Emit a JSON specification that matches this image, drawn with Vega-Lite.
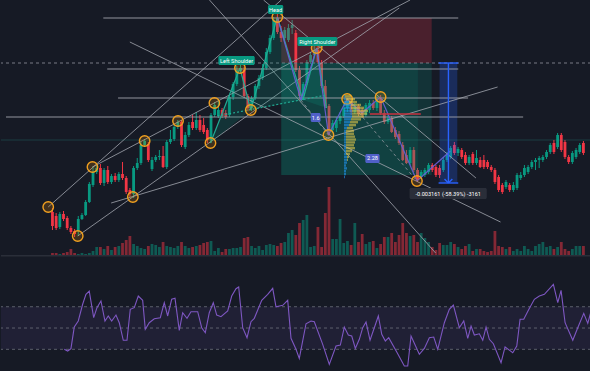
{
"$schema":"https://vega.github.io/schema/vega-lite/v6.json",
"background":"#161a25",
"padding":0,
"spacing":0,
"config":{"view":{"stroke":null},"axis":{"disable":true},"legend":{"disable":true},"concat":{"spacing":0}},
"datasets":{
"candles":[
{"i":0,"o":1540,"h":1644,"l":1072,"c":1176,"v":30},{"i":1,"o":1436,"h":1514,"l":1072,"c":1124,"v":30},{"i":2,"o":1150,"h":1540,"l":1098,"c":1488,"v":20},{"i":3,"o":1488,"h":1566,"l":1306,"c":1358,"v":30},{"i":4,"o":1384,"h":1436,"l":1072,"c":1124,"v":40},{"i":5,"o":1124,"h":1176,"l":968,"c":1020,"v":70},{"i":6,"o":1046,"h":1098,"l":890,"c":968,"v":30},{"i":7,"o":1046,"h":1436,"l":916,"c":1358,"v":20},{"i":8,"o":1358,"h":1514,"l":1332,"c":1462,"v":30},{"i":9,"o":1462,"h":1852,"l":1436,"c":1800,"v":20},
{"i":10,"o":1800,"h":2320,"l":1774,"c":2268,"v":30},{"i":11,"o":2242,"h":2736,"l":2190,"c":2580,"v":50},{"i":12,"o":2580,"h":2762,"l":2528,"c":2684,"v":90},{"i":13,"o":2684,"h":2788,"l":2242,"c":2294,"v":90},{"i":14,"o":2294,"h":2684,"l":2216,"c":2632,"v":70},{"i":15,"o":2632,"h":2736,"l":2268,"c":2320,"v":100},{"i":16,"o":2320,"h":2528,"l":2268,"c":2476,"v":60},{"i":17,"o":2476,"h":2554,"l":2320,"c":2372,"v":90},{"i":18,"o":2372,"h":2580,"l":2320,"c":2528,"v":100},{"i":19,"o":2528,"h":2840,"l":2372,"c":2424,"v":130},
{"i":20,"o":2424,"h":2476,"l":2008,"c":2060,"v":160},{"i":21,"o":2112,"h":2164,"l":1930,"c":2008,"v":200},{"i":22,"o":2008,"h":2736,"l":1904,"c":2684,"v":120},{"i":23,"o":2684,"h":2944,"l":2632,"c":2814,"v":100},{"i":24,"o":2814,"h":3360,"l":2762,"c":3282,"v":80},{"i":25,"o":3282,"h":3438,"l":3230,"c":3386,"v":70},{"i":26,"o":3308,"h":3360,"l":2840,"c":2892,"v":100},{"i":27,"o":2658,"h":2970,"l":2606,"c":2892,"v":120},{"i":28,"o":2892,"h":3022,"l":2840,"c":2970,"v":110},{"i":29,"o":2970,"h":3152,"l":2892,"c":2996,"v":90},
{"i":30,"o":2996,"h":3256,"l":2684,"c":2710,"v":140},{"i":31,"o":2710,"h":3412,"l":2658,"c":3360,"v":100},{"i":32,"o":3360,"h":3672,"l":3308,"c":3438,"v":90},{"i":33,"o":3438,"h":3802,"l":3386,"c":3750,"v":80},{"i":34,"o":3750,"h":3932,"l":3698,"c":3880,"v":100},{"i":35,"o":3880,"h":3932,"l":3230,"c":3282,"v":140},{"i":36,"o":3230,"h":3620,"l":3178,"c":3542,"v":100},{"i":37,"o":3542,"h":3880,"l":3490,"c":3802,"v":80},{"i":38,"o":3880,"h":4062,"l":3672,"c":3724,"v":90},{"i":39,"o":3724,"h":4140,"l":3672,"c":3932,"v":100},
{"i":40,"o":3932,"h":4062,"l":3620,"c":3672,"v":110},{"i":41,"o":3802,"h":3984,"l":3568,"c":3620,"v":130},{"i":42,"o":3672,"h":3724,"l":3334,"c":3412,"v":140},{"i":43,"o":3412,"h":4114,"l":3334,"c":4062,"v":150},{"i":44,"o":4062,"h":4400,"l":4010,"c":4322,"v":50},{"i":45,"o":4036,"h":4452,"l":3984,"c":4192,"v":80},{"i":46,"o":4192,"h":4244,"l":3984,"c":4036,"v":40},{"i":47,"o":4114,"h":4192,"l":3958,"c":4010,"v":70},{"i":48,"o":4062,"h":4582,"l":4010,"c":4530,"v":70},{"i":49,"o":4530,"h":4920,"l":4452,"c":4868,"v":80},
{"i":50,"o":4868,"h":5336,"l":4816,"c":5232,"v":80},{"i":51,"o":5206,"h":5362,"l":5154,"c":5284,"v":90},{"i":52,"o":5232,"h":5310,"l":4504,"c":4556,"v":180},{"i":53,"o":4556,"h":4608,"l":4166,"c":4244,"v":190},{"i":54,"o":4244,"h":4556,"l":4166,"c":4504,"v":100},{"i":55,"o":4504,"h":4868,"l":4452,"c":4816,"v":80},{"i":56,"o":4816,"h":5102,"l":4738,"c":5024,"v":100},{"i":57,"o":5024,"h":5388,"l":4972,"c":5284,"v":60},{"i":58,"o":5284,"h":5804,"l":5232,"c":5700,"v":110},{"i":59,"o":5700,"h":6142,"l":5648,"c":6064,"v":120},
{"i":60,"o":6064,"h":6610,"l":6012,"c":6532,"v":110},{"i":61,"o":6584,"h":6688,"l":6168,"c":6220,"v":100},{"i":62,"o":6220,"h":6376,"l":5960,"c":6064,"v":130},{"i":63,"o":6064,"h":6350,"l":6012,"c":6272,"v":140},{"i":64,"o":6012,"h":6428,"l":5960,"c":6324,"v":230},{"i":65,"o":6324,"h":6532,"l":6168,"c":6402,"v":260},{"i":66,"o":6194,"h":6272,"l":5180,"c":5232,"v":210},{"i":67,"o":5232,"h":5336,"l":4452,"c":4556,"v":330},{"i":68,"o":4556,"h":4920,"l":4452,"c":4868,"v":360},{"i":69,"o":4894,"h":5492,"l":4842,"c":5440,"v":410},
{"i":70,"o":5440,"h":5700,"l":5388,"c":5622,"v":90},{"i":71,"o":5622,"h":5882,"l":5570,"c":5752,"v":100},{"i":72,"o":5752,"h":5856,"l":5388,"c":5440,"v":290},{"i":73,"o":5414,"h":5492,"l":4764,"c":4816,"v":90},{"i":74,"o":4816,"h":4972,"l":4244,"c":4296,"v":430},{"i":75,"o":4296,"h":4348,"l":3516,"c":3672,"v":690},{"i":76,"o":3672,"h":3932,"l":3594,"c":3854,"v":170},{"i":77,"o":3724,"h":4010,"l":3620,"c":3932,"v":170},{"i":78,"o":3906,"h":4140,"l":3828,"c":4036,"v":370},{"i":79,"o":4036,"h":4348,"l":3984,"c":4244,"v":130},
{"i":80,"o":4244,"h":4504,"l":4140,"c":4426,"v":150},{"i":81,"o":4426,"h":4478,"l":4062,"c":4140,"v":110},{"i":82,"o":4140,"h":4374,"l":4088,"c":4296,"v":330},{"i":83,"o":4296,"h":4348,"l":4036,"c":4088,"v":140},{"i":84,"o":4192,"h":4244,"l":4010,"c":4062,"v":220},{"i":85,"o":4062,"h":4374,"l":4010,"c":4322,"v":120},{"i":86,"o":4192,"h":4452,"l":4114,"c":4374,"v":140},{"i":87,"o":4374,"h":4452,"l":4192,"c":4244,"v":150},{"i":88,"o":4244,"h":4556,"l":4166,"c":4478,"v":80},{"i":89,"o":4478,"h":4582,"l":4062,"c":4114,"v":120},
{"i":90,"o":4114,"h":4192,"l":3828,"c":3880,"v":190},{"i":91,"o":3880,"h":4062,"l":3828,"c":3984,"v":190},{"i":92,"o":3984,"h":4036,"l":3594,"c":3620,"v":230},{"i":93,"o":3672,"h":3750,"l":3438,"c":3490,"v":140},{"i":94,"o":3568,"h":3646,"l":3282,"c":3334,"v":210},{"i":95,"o":3282,"h":3360,"l":2866,"c":2892,"v":330},{"i":96,"o":3022,"h":3152,"l":2788,"c":2814,"v":230},{"i":97,"o":2814,"h":3230,"l":2762,"c":3152,"v":200},{"i":98,"o":3152,"h":3230,"l":2580,"c":2632,"v":210},{"i":99,"o":2632,"h":2684,"l":2320,"c":2372,"v":140},
{"i":100,"o":2450,"h":2632,"l":2398,"c":2580,"v":230},{"i":101,"o":2502,"h":2684,"l":2450,"c":2632,"v":180},{"i":102,"o":2580,"h":2814,"l":2528,"c":2762,"v":140},{"i":103,"o":2762,"h":2814,"l":2580,"c":2632,"v":90},{"i":104,"o":2710,"h":2762,"l":2450,"c":2502,"v":60},{"i":105,"o":2684,"h":2762,"l":2424,"c":2502,"v":130},{"i":106,"o":2632,"h":2970,"l":2580,"c":2892,"v":110},{"i":107,"o":2892,"h":3100,"l":2840,"c":3022,"v":110},{"i":108,"o":2970,"h":3256,"l":2918,"c":3204,"v":140},{"i":109,"o":3282,"h":3360,"l":3022,"c":3074,"v":120},
{"i":110,"o":3074,"h":3230,"l":2996,"c":3178,"v":90},{"i":111,"o":3152,"h":3204,"l":2918,"c":2970,"v":70},{"i":112,"o":3022,"h":3100,"l":2762,"c":2814,"v":100},{"i":113,"o":2814,"h":3022,"l":2762,"c":2970,"v":120},{"i":114,"o":3048,"h":3100,"l":2762,"c":2814,"v":50},{"i":115,"o":2814,"h":3152,"l":2762,"c":2944,"v":70},{"i":116,"o":2892,"h":2970,"l":2684,"c":2710,"v":70},{"i":117,"o":2892,"h":3022,"l":2658,"c":2710,"v":50},{"i":118,"o":2840,"h":2892,"l":2658,"c":2710,"v":40},{"i":119,"o":2710,"h":2762,"l":2580,"c":2632,"v":50},
{"i":120,"o":2632,"h":2684,"l":2268,"c":2320,"v":250},{"i":121,"o":2450,"h":2502,"l":2060,"c":2112,"v":100},{"i":122,"o":2242,"h":2294,"l":2008,"c":2060,"v":90},{"i":123,"o":2190,"h":2372,"l":2138,"c":2320,"v":70},{"i":124,"o":2242,"h":2294,"l":2060,"c":2112,"v":90},{"i":125,"o":2112,"h":2320,"l":2060,"c":2242,"v":50},{"i":126,"o":2164,"h":2554,"l":2112,"c":2502,"v":70},{"i":127,"o":2424,"h":2580,"l":2372,"c":2502,"v":50},{"i":128,"o":2502,"h":2762,"l":2450,"c":2684,"v":100},{"i":129,"o":2580,"h":2762,"l":2528,"c":2710,"v":70},
{"i":130,"o":2710,"h":2892,"l":2658,"c":2840,"v":50},{"i":131,"o":2840,"h":2944,"l":2632,"c":2892,"v":100},{"i":132,"o":2892,"h":2996,"l":2684,"c":2944,"v":120},{"i":133,"o":2892,"h":3022,"l":2840,"c":2970,"v":140},{"i":134,"o":2970,"h":3152,"l":2918,"c":3100,"v":90},{"i":135,"o":3100,"h":3334,"l":3048,"c":3282,"v":100},{"i":136,"o":3334,"h":3412,"l":3048,"c":3100,"v":70},{"i":137,"o":3230,"h":3594,"l":3178,"c":3542,"v":90},{"i":138,"o":3542,"h":3594,"l":3100,"c":3152,"v":140},{"i":139,"o":3360,"h":3412,"l":2918,"c":2970,"v":70},
{"i":140,"o":2970,"h":3022,"l":2788,"c":2840,"v":50},{"i":141,"o":2840,"h":3126,"l":2788,"c":3074,"v":70},{"i":142,"o":2970,"h":3204,"l":2918,"c":3152,"v":100},{"i":143,"o":3100,"h":3334,"l":3048,"c":3282,"v":100},{"i":144,"o":3334,"h":3386,"l":3022,"c":3074,"v":100}
],
"seg":[
{"kind":"level","i":13.79,"p":6584,"i2":110.05,"p2":6584},
{"kind":"level","i":14.85,"p":5258,"i2":110.05,"p2":5258},
{"kind":"level","i":17.79,"p":4504,"i2":112.72,"p2":4504},
{"kind":"level","i":-12.6,"p":4010,"i2":127.65,"p2":4010},
{"kind":"trend","i":20.99,"p":5960,"i2":121.52,"p2":1280},
{"kind":"trend","i":-1.15,"p":1670,"i2":62.05,"p2":7052},
{"kind":"trend","i":6.85,"p":916,"i2":94.05,"p2":6844},
{"kind":"trend","i":10.85,"p":2710,"i2":96.99,"p2":7052},
{"kind":"trend","i":15.92,"p":1774,"i2":120.72,"p2":4790},
{"kind":"trend","i":42.59,"p":7052,"i2":103.92,"p2":474},
{"kind":"trend","i":57.25,"p":7052,"i2":114.85,"p2":2424},
{"kind":"hs","i":42.85,"p":3334,"i2":50.85,"p2":5284},
{"kind":"hs","i":50.85,"p":5284,"i2":53.79,"p2":4192},
{"kind":"hs","i":53.79,"p":4192,"i2":60.99,"p2":6610},
{"kind":"hs","i":60.99,"p":6610,"i2":67.93,"p2":4452},
{"kind":"hs","i":67.93,"p":4452,"i2":71.65,"p2":5804},
{"kind":"hs","i":71.65,"p":5804,"i2":74.32,"p2":4244},
{"kind":"neck","i":44.72,"p":4036,"i2":74.32,"p2":4582},
{"kind":"ratio","i":67.39,"p":4452,"i2":74.85,"p2":3542},
{"kind":"ratio","i":79.92,"p":4478,"i2":98.85,"p2":2346},
{"kind":"wave","i":60.99,"p":6610,"i2":67.39,"p2":4452},
{"kind":"wave","i":67.39,"p":4452,"i2":71.65,"p2":5804},
{"kind":"wave","i":71.65,"p":5804,"i2":74.85,"p2":3542},
{"kind":"wave","i":74.85,"p":3542,"i2":79.92,"p2":4478},
{"kind":"wave","i":79.92,"p":4478,"i2":83.92,"p2":4114},
{"kind":"wave","i":83.92,"p":4114,"i2":88.99,"p2":4530},
{"kind":"wave","i":88.99,"p":4530,"i2":98.85,"p2":2346},
{"kind":"wave","i":98.85,"p":2346,"i2":107.92,"p2":3126},
{"kind":"stop","i":86.05,"p":4088,"i2":99.91,"p2":4088},
{"kind":"measure","i":107.39,"p":5414,"i2":107.39,"p2":2294},
{"kind":"measure","i":104.72,"p":5414,"i2":110.05,"p2":5414},
{"kind":"measure","i":104.72,"p":2294,"i2":110.05,"p2":2294},
{"kind":"measure","i":106.32,"p":2398,"i2":107.39,"p2":2294},
{"kind":"measure","i":107.39,"p":2294,"i2":108.45,"p2":2398}
],
"zones":[
{"kind":"loss","i":62.05,"i2":102.85,"p":6584,"p2":5414},
{"kind":"profit","i":62.05,"i2":102.85,"p":5414,"p2":2502},
{"kind":"profit2","i":62.05,"i2":99.11,"p":5414,"p2":2502},
{"kind":"measure","i":104.99,"i2":109.79,"p":5414,"p2":2294}
],
"boxes":[
{"kind":"pattern","i":45.0,"i2":54.85,"p":5596,"p2":5362},
{"kind":"pattern","i":58.45,"i2":62.59,"p":6922,"p2":6688},
{"kind":"pattern","i":66.45,"i2":77.25,"p":6090,"p2":5856},
{"kind":"ratio","i":70.05,"i2":72.72,"p":4114,"p2":3880},
{"kind":"ratio","i":84.85,"i2":88.72,"p":3048,"p2":2814},
{"kind":"measure","i":96.85,"i2":117.79,"p":2164,"p2":1878}
],
"labels":[
{"txt":"Left Shoulder","i":49.92,"p":5479},
{"txt":"Head","i":60.51,"p":6805},
{"txt":"Right Shoulder","i":71.84,"p":5973},
{"txt":"1.6","i":71.39,"p":3997},
{"txt":"2.28","i":86.8,"p":2936},
{"txt":"-0.003161 (-58.39%) -3161","i":107.33,"p":2016}
],
"circles":[
{"i":-1.15,"p":1670},{"i":6.85,"p":916},{"i":10.85,"p":2710},{"i":21.8,"p":1930},{"i":25.0,"p":3386},{"i":34.05,"p":3906},{"i":42.85,"p":3334},{"i":43.92,"p":4374},{"i":50.85,"p":5284},{"i":53.79,"p":4192},{"i":60.99,"p":6610},{"i":71.65,"p":5804},{"i":74.85,"p":3542},{"i":79.92,"p":4478},{"i":88.99,"p":4530},{"i":98.85,"p":2346}
],
"hl":[{"kind":"price","p":5414},{"kind":"last","p":3412},{"kind":"sep","p":405}],
"fills":[
{"poly":1,"k":1,"i":42.85,"p":3334},{"poly":1,"k":2,"i":50.85,"p":5284},{"poly":1,"k":3,"i":53.79,"p":4192},
{"poly":2,"k":1,"i":53.79,"p":4192},{"poly":2,"k":2,"i":60.99,"p":6610},{"poly":2,"k":3,"i":67.93,"p":4452},
{"poly":3,"k":1,"i":67.93,"p":4452},{"poly":3,"k":2,"i":71.65,"p":5804},{"poly":3,"k":3,"i":74.32,"p":4244}
],
"profile":[
{"p":4582,"side":"buy","v":4},{"p":4582,"side":"sell","v":24},
{"p":4504,"side":"buy","v":8},{"p":4504,"side":"sell","v":36},
{"p":4426,"side":"buy","v":20},{"p":4426,"side":"sell","v":32},
{"p":4348,"side":"buy","v":28},{"p":4348,"side":"sell","v":40},
{"p":4270,"side":"buy","v":28},{"p":4270,"side":"sell","v":52},
{"p":4192,"side":"buy","v":32},{"p":4192,"side":"sell","v":64},
{"p":4114,"side":"buy","v":32},{"p":4114,"side":"sell","v":60},
{"p":4036,"side":"buy","v":32},{"p":4036,"side":"sell","v":48},
{"p":3958,"side":"buy","v":28},{"p":3958,"side":"sell","v":40},
{"p":3880,"side":"buy","v":24},{"p":3880,"side":"sell","v":32},
{"p":3802,"side":"buy","v":20},{"p":3802,"side":"sell","v":28},
{"p":3724,"side":"buy","v":12},{"p":3724,"side":"sell","v":24},
{"p":3646,"side":"buy","v":8},{"p":3646,"side":"sell","v":32},
{"p":3568,"side":"buy","v":8},{"p":3568,"side":"sell","v":32},
{"p":3490,"side":"buy","v":8},{"p":3490,"side":"sell","v":36},
{"p":3412,"side":"buy","v":8},{"p":3412,"side":"sell","v":40},
{"p":3334,"side":"buy","v":8},{"p":3334,"side":"sell","v":36},
{"p":3256,"side":"buy","v":8},{"p":3256,"side":"sell","v":32},
{"p":3178,"side":"buy","v":8},{"p":3178,"side":"sell","v":36},
{"p":3100,"side":"buy","v":8},{"p":3100,"side":"sell","v":24},
{"p":3022,"side":"buy","v":8},{"p":3022,"side":"sell","v":16},
{"p":2944,"side":"buy","v":12},{"p":2944,"side":"sell","v":8},
{"p":2866,"side":"buy","v":12},{"p":2866,"side":"sell","v":4},
{"p":2788,"side":"buy","v":12},
{"p":2710,"side":"buy","v":8},
{"p":2632,"side":"buy","v":12},
{"p":2554,"side":"buy","v":8},
{"p":2476,"side":"buy","v":8},
{"p":2398,"side":"buy","v":4}
],
"rsi":[
{"i":4.27,"v":30.0},{"i":5.17,"v":28.4},{"i":6.05,"v":30.6},{"i":6.93,"v":50.9},{"i":8.0,"v":56.6},{"i":9.17,"v":72.3},{"i":10.05,"v":81.6},{"i":10.93,"v":84.7},{"i":12.11,"v":59.7},{"i":12.99,"v":69.1},
{"i":14.05,"v":75.4},{"i":15.12,"v":56.6},{"i":16.0,"v":61.3},{"i":16.91,"v":56.6},{"i":18.05,"v":62.2},{"i":18.93,"v":55.0},{"i":20.0,"v":38.5},{"i":20.99,"v":38.5},{"i":21.87,"v":67.6},{"i":22.93,"v":69.1},
{"i":24.0,"v":80.0},{"i":25.17,"v":76.0},{"i":25.87,"v":48.8},{"i":26.93,"v":55.0},{"i":28.27,"v":58.7},{"i":29.87,"v":59.7},{"i":30.93,"v":73.8},{"i":31.84,"v":61.3},{"i":32.91,"v":77.0},{"i":33.79,"v":77.9},
{"i":34.93,"v":47.8},{"i":35.84,"v":64.4},{"i":36.99,"v":59.1},{"i":38.05,"v":65.3},{"i":39.84,"v":65.3},{"i":40.91,"v":50.3},{"i":41.87,"v":45.6},{"i":42.93,"v":64.4},{"i":44.0,"v":73.8},{"i":44.91,"v":62.2},
{"i":46.05,"v":60.6},{"i":47.84,"v":66.0},{"i":48.91,"v":80.0},{"i":50.05,"v":86.9},{"i":50.77,"v":88.5},{"i":51.84,"v":50.3},{"i":52.99,"v":40.9},{"i":54.05,"v":55.9},{"i":54.93,"v":59.1},{"i":56.91,"v":76.0},
{"i":58.51,"v":81.6},{"i":59.84,"v":87.3},{"i":60.72,"v":70.0},{"i":62.51,"v":71.3},{"i":63.84,"v":76.0},{"i":64.72,"v":40.3},{"i":66.05,"v":30.0},{"i":66.93,"v":21.5},{"i":68.72,"v":54.0},{"i":70.05,"v":56.6},
{"i":70.93,"v":55.9},{"i":73.17,"v":34.7},{"i":74.93,"v":15.9},{"i":76.72,"v":33.1},{"i":77.87,"v":34.0},{"i":78.93,"v":50.9},{"i":80.0,"v":43.4},{"i":80.91,"v":42.5},{"i":81.87,"v":30.9},{"i":82.93,"v":39.4},
{"i":83.84,"v":50.3},{"i":84.72,"v":55.6},{"i":85.79,"v":38.5},{"i":88.0,"v":61.3},{"i":88.91,"v":44.1},{"i":89.87,"v":37.8},{"i":90.77,"v":40.9},{"i":93.17,"v":25.9},{"i":94.93,"v":14.3},{"i":95.84,"v":14.3},
{"i":96.72,"v":42.5},{"i":98.93,"v":25.3},{"i":100.27,"v":30.9},{"i":101.6,"v":40.9},{"i":102.77,"v":41.5},{"i":103.84,"v":30.0},{"i":105.6,"v":55.0},{"i":106.93,"v":67.6},{"i":108.0,"v":71.6},{"i":109.6,"v":50.3},
{"i":110.77,"v":56.6},{"i":111.84,"v":40.3},{"i":112.72,"v":51.9},{"i":113.6,"v":43.4},{"i":114.93,"v":44.6},{"i":115.84,"v":38.5},{"i":116.72,"v":50.9},{"i":117.6,"v":39.4},{"i":118.67,"v":35.3},{"i":120.72,"v":17.4},
{"i":121.79,"v":32.2},{"i":123.84,"v":26.8},{"i":124.91,"v":33.1},{"i":125.79,"v":58.2},{"i":126.77,"v":58.2},{"i":128.0,"v":66.6},{"i":129.6,"v":77.0},{"i":130.93,"v":80.0},{"i":132.27,"v":81.6},{"i":134.67,"v":91.0},
{"i":135.84,"v":73.8},{"i":136.72,"v":85.4},{"i":137.79,"v":55.0},{"i":139.84,"v":38.5},{"i":141.17,"v":50.3},{"i":142.77,"v":63.8},{"i":143.84,"v":54.4},{"i":144.72,"v":66.0}
]
},
"vconcat":[
{
"width":590,"height":256,
"layer":[
{"data":{"name":"candles"},"mark":{"type":"bar","width":2.8,"opacity":0.5},
 "encoding":{"x":{"field":"i","type":"quantitative","scale":{"domain":[-12.6,144.7],"nice":false,"zero":false}},
 "y":{"field":"v","type":"quantitative","scale":{"domain":[0,2560],"nice":false}},
 "color":{"condition":{"test":"datum.c >= datum.o","value":"#089981"},"value":"#f23645"}}},
{
"encoding":{"x":{"field":"i","type":"quantitative","scale":{"domain":[-12.6,144.7],"nice":false,"zero":false}}},
"layer":[
{"data":{"name":"candles"},"mark":{"type":"rule","strokeWidth":1},
 "encoding":{"y":{"field":"l","type":"quantitative","scale":{"domain":[396,7052],"nice":false,"zero":false}},"y2":{"field":"h"},
 "color":{"condition":{"test":"datum.c >= datum.o","value":"#089981"},"value":"#f23645"}}},
{"data":{"name":"candles"},"mark":{"type":"bar","width":2.8},
 "encoding":{"y":{"field":"o","type":"quantitative","scale":{"domain":[396,7052],"nice":false,"zero":false}},"y2":{"field":"c"},
 "color":{"condition":{"test":"datum.c >= datum.o","value":"#089981"},"value":"#f23645"}}},
{"data":{"name":"zones"},"transform":[{"filter":"datum.kind == 'loss'"}],"mark":{"type":"rect","fill":"#f23645","fillOpacity":0.24},
 "encoding":{"x2":{"field":"i2"},"y":{"field":"p","type":"quantitative","scale":{"domain":[396,7052],"nice":false,"zero":false}},"y2":{"field":"p2"}}},
{"data":{"name":"zones"},"transform":[{"filter":"datum.kind == 'profit'"}],"mark":{"type":"rect","fill":"#089981","fillOpacity":0.2},
 "encoding":{"x2":{"field":"i2"},"y":{"field":"p","type":"quantitative","scale":{"domain":[396,7052],"nice":false,"zero":false}},"y2":{"field":"p2"}}},
{"data":{"name":"zones"},"transform":[{"filter":"datum.kind == 'profit2'"}],"mark":{"type":"rect","fill":"#089981","fillOpacity":0.14},
 "encoding":{"x2":{"field":"i2"},"y":{"field":"p","type":"quantitative","scale":{"domain":[396,7052],"nice":false,"zero":false}},"y2":{"field":"p2"}}},
{"data":{"name":"zones"},"transform":[{"filter":"datum.kind == 'measure'"}],"mark":{"type":"rect","fill":"#2962ff","fillOpacity":0.25},
 "encoding":{"x2":{"field":"i2"},"y":{"field":"p","type":"quantitative","scale":{"domain":[396,7052],"nice":false,"zero":false}},"y2":{"field":"p2"}}},
{"data":{"name":"hl"},"transform":[{"filter":"datum.kind == 'price'"}],"mark":{"type":"rule","stroke":"#787b86","strokeWidth":1,"strokeDash":[3,3]},
 "encoding":{"x":null,"y":{"field":"p","type":"quantitative","scale":{"domain":[396,7052],"nice":false,"zero":false}}}},
{"data":{"name":"hl"},"transform":[{"filter":"datum.kind == 'last'"}],"mark":{"type":"rule","stroke":"#26a69a","strokeWidth":1,"opacity":0.25},
 "encoding":{"x":null,"y":{"field":"p","type":"quantitative","scale":{"domain":[396,7052],"nice":false,"zero":false}}}},
{"data":{"name":"hl"},"transform":[{"filter":"datum.kind == 'sep'"}],"mark":{"type":"rule","stroke":"#2a2e39","strokeWidth":1.5},
 "encoding":{"x":null,"y":{"field":"p","type":"quantitative","scale":{"domain":[396,7052],"nice":false,"zero":false}}}},
{"data":{"name":"seg"},"transform":[{"filter":"datum.kind == 'level'"}],"mark":{"type":"rule","stroke":"#9fa2ab","strokeWidth":1.1,"opacity":0.9,"clip":true},
 "encoding":{"x2":{"field":"i2"},"y":{"field":"p","type":"quantitative","scale":{"domain":[396,7052],"nice":false,"zero":false}},"y2":{"field":"p2"}}},
{"data":{"name":"seg"},"transform":[{"filter":"datum.kind == 'trend'"}],"mark":{"type":"rule","stroke":"#a3a6af","strokeWidth":1,"opacity":0.8,"clip":true},
 "encoding":{"x2":{"field":"i2"},"y":{"field":"p","type":"quantitative","scale":{"domain":[396,7052],"nice":false,"zero":false}},"y2":{"field":"p2"}}},
{"data":{"name":"fills"},"mark":{"type":"line","fill":"#089981","fillOpacity":0.2,"strokeWidth":0},
 "encoding":{"y":{"field":"p","type":"quantitative","scale":{"domain":[396,7052],"nice":false,"zero":false}},"detail":{"field":"poly"},"order":{"field":"k"}}},
{"data":{"name":"seg"},"transform":[{"filter":"datum.kind == 'hs'"}],"mark":{"type":"rule","stroke":"#22ab94","strokeWidth":1.2},
 "encoding":{"x2":{"field":"i2"},"y":{"field":"p","type":"quantitative","scale":{"domain":[396,7052],"nice":false,"zero":false}},"y2":{"field":"p2"}}},
{"data":{"name":"seg"},"transform":[{"filter":"datum.kind == 'neck'"}],"mark":{"type":"rule","stroke":"#22ab94","strokeWidth":1.2,"strokeDash":[2,2]},
 "encoding":{"x2":{"field":"i2"},"y":{"field":"p","type":"quantitative","scale":{"domain":[396,7052],"nice":false,"zero":false}},"y2":{"field":"p2"}}},
{"data":{"name":"seg"},"transform":[{"filter":"datum.kind == 'ratio'"}],"mark":{"type":"rule","stroke":"#9598a1","strokeWidth":1,"strokeDash":[3,3],"opacity":0.8},
 "encoding":{"x2":{"field":"i2"},"y":{"field":"p","type":"quantitative","scale":{"domain":[396,7052],"nice":false,"zero":false}},"y2":{"field":"p2"}}},
{"data":{"name":"seg"},"transform":[{"filter":"datum.kind == 'wave'"}],"mark":{"type":"rule","stroke":"#6a5fd8","strokeWidth":1.2,"opacity":0.9},
 "encoding":{"x2":{"field":"i2"},"y":{"field":"p","type":"quantitative","scale":{"domain":[396,7052],"nice":false,"zero":false}},"y2":{"field":"p2"}}},
{"data":{"name":"seg"},"transform":[{"filter":"datum.kind == 'stop'"}],"mark":{"type":"rule","stroke":"#c8323f","strokeWidth":1.5},
 "encoding":{"x2":{"field":"i2"},"y":{"field":"p","type":"quantitative","scale":{"domain":[396,7052],"nice":false,"zero":false}},"y2":{"field":"p2"}}},
{"data":{"name":"seg"},"transform":[{"filter":"datum.kind == 'measure'"}],"mark":{"type":"rule","stroke":"#2962ff","strokeWidth":1.4},
 "encoding":{"x2":{"field":"i2"},"y":{"field":"p","type":"quantitative","scale":{"domain":[396,7052],"nice":false,"zero":false}},"y2":{"field":"p2"}}},
{"data":{"name":"circles"},"mark":{"type":"point","shape":"circle","size":110,"filled":true,"fill":"#ff9800","fillOpacity":0.18,"stroke":"#f0a020","strokeWidth":1.4,"strokeOpacity":1},
 "encoding":{"y":{"field":"p","type":"quantitative","scale":{"domain":[396,7052],"nice":false,"zero":false}}}},
{"data":{"name":"boxes"},"transform":[{"filter":"datum.kind == 'pattern'"}],"mark":{"type":"rect","fill":"#089981","cornerRadius":1.5},
 "encoding":{"x2":{"field":"i2"},"y":{"field":"p","type":"quantitative","scale":{"domain":[396,7052],"nice":false,"zero":false}},"y2":{"field":"p2"}}},
{"data":{"name":"boxes"},"transform":[{"filter":"datum.kind == 'ratio'"}],"mark":{"type":"rect","fill":"#5060c8","cornerRadius":1.5},
 "encoding":{"x2":{"field":"i2"},"y":{"field":"p","type":"quantitative","scale":{"domain":[396,7052],"nice":false,"zero":false}},"y2":{"field":"p2"}}},
{"data":{"name":"boxes"},"transform":[{"filter":"datum.kind == 'measure'"}],"mark":{"type":"rect","fill":"#2a2e39","cornerRadius":1.5},
 "encoding":{"x2":{"field":"i2"},"y":{"field":"p","type":"quantitative","scale":{"domain":[396,7052],"nice":false,"zero":false}},"y2":{"field":"p2"}}},
{"data":{"name":"labels"},"mark":{"type":"text","font":"Roboto","fontSize":5.6,"color":"#ffffff","align":"center","baseline":"middle"},
 "encoding":{"y":{"field":"p","type":"quantitative","scale":{"domain":[396,7052],"nice":false,"zero":false}},"text":{"field":"txt"}}}
]
},
{"data":{"name":"profile"},"mark":{"type":"bar","orient":"horizontal","height":2.4,"opacity":0.6},
 "encoding":{"x":{"field":"v","type":"quantitative","stack":"zero","scale":{"domain":[-1372,988],"nice":false,"zero":false}},
 "y":{"field":"p","type":"quantitative","scale":{"domain":[396,7052],"nice":false,"zero":false}},
 "color":{"field":"side","type":"nominal","scale":{"domain":["buy","sell"],"range":["#2196f3","#e3c84a"]},"legend":null},
 "order":{"field":"side","sort":"ascending"}}}
],
"resolve":{"scale":{"x":"independent","y":"independent","color":"independent"}}
},
{
"width":590,"height":115,
"layer":[
{"data":{"values":[{"hi":70,"lo":30}]},"mark":{"type":"rect","fill":"#7e57c2","fillOpacity":0.1},
 "encoding":{"y":{"field":"hi","type":"quantitative","scale":{"domain":[8.7,116.7],"nice":false,"zero":false}},"y2":{"field":"lo"}}},
{"data":{"values":[{"lvl":70},{"lvl":50},{"lvl":30}]},"mark":{"type":"rule","stroke":"#787b86","strokeWidth":1,"strokeDash":[3,3],"opacity":0.7},
 "encoding":{"y":{"field":"lvl","type":"quantitative","scale":{"domain":[8.7,116.7],"nice":false,"zero":false}}}},
{"data":{"name":"rsi"},"mark":{"type":"line","stroke":"#7e57c2","strokeWidth":1.1},
 "encoding":{"x":{"field":"i","type":"quantitative","scale":{"domain":[-12.6,144.7],"nice":false,"zero":false}},
 "y":{"field":"v","type":"quantitative","scale":{"domain":[8.7,116.7],"nice":false,"zero":false}}}}
]
}
]
}
